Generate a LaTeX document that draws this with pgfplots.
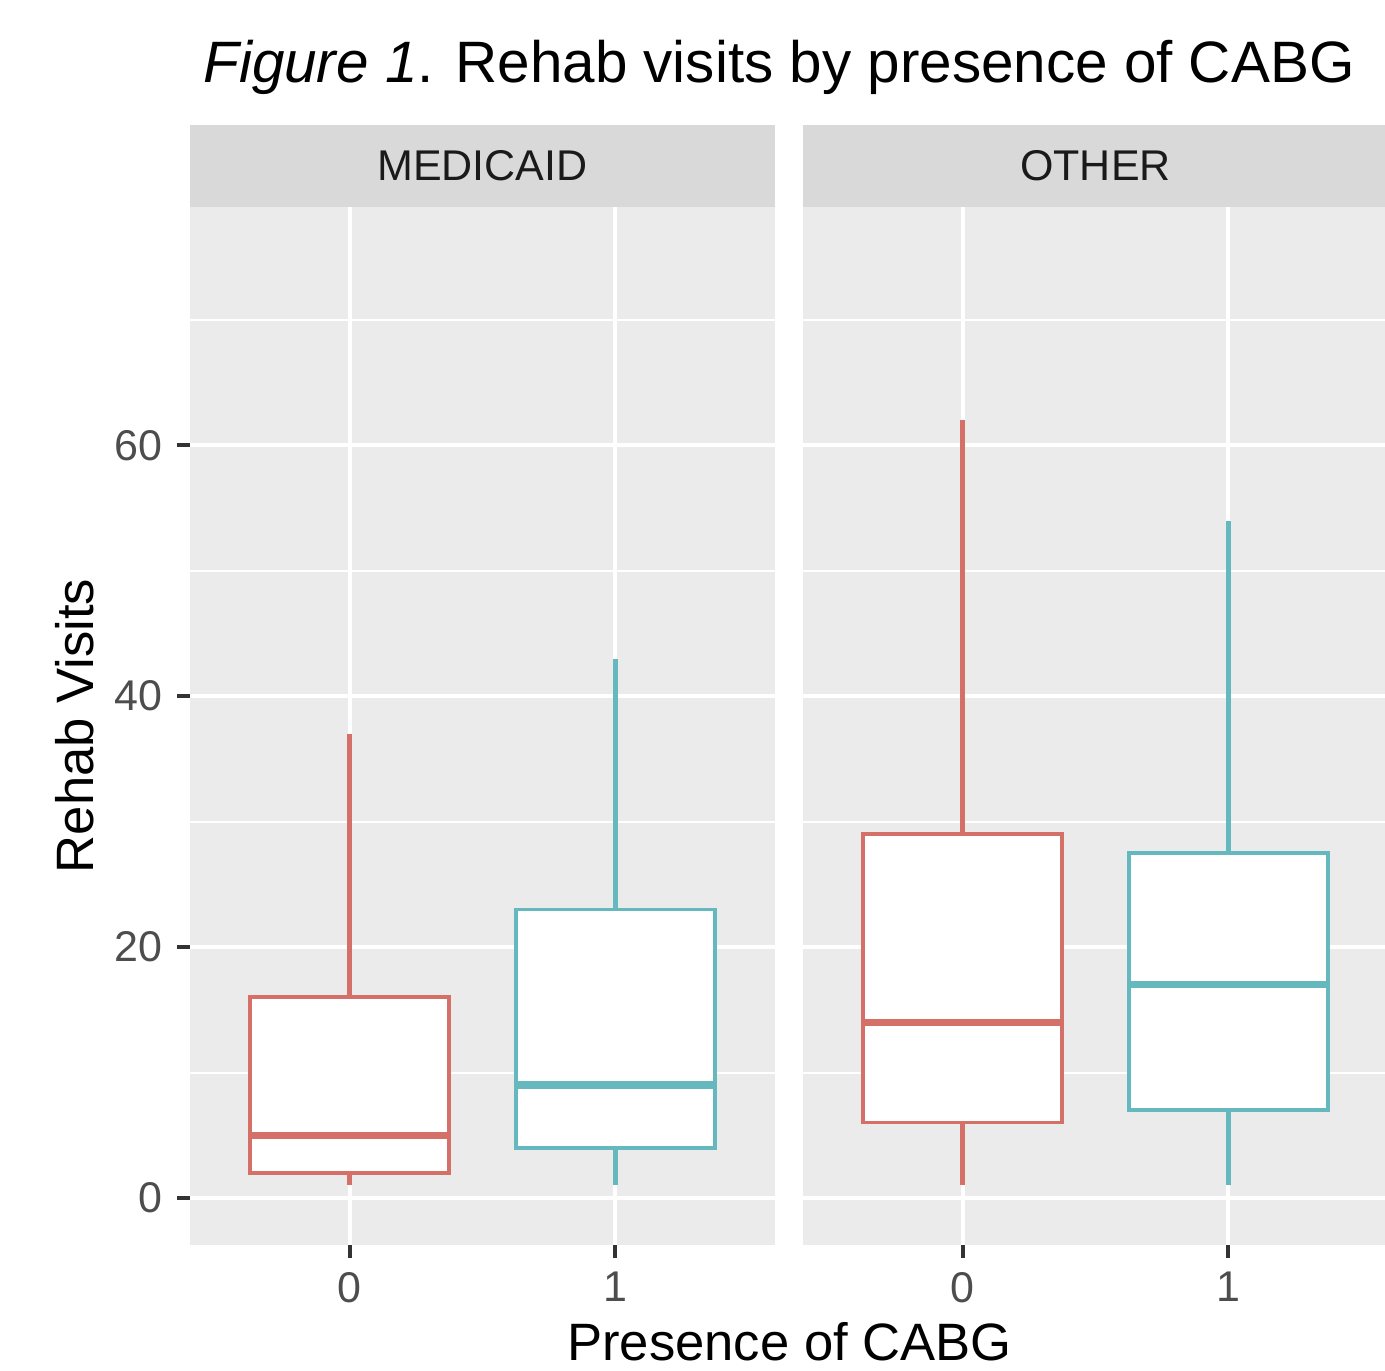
\documentclass[border=0pt]{standalone}
\usepackage{fontspec}
\setmainfont{Liberation Sans}
\usepackage{pgfplots}
\pgfplotsset{compat=1.18}
\usepgfplotslibrary{statistics}
\definecolor{cred}{RGB}{212,112,104}
\definecolor{cteal}{RGB}{100,184,190}
\definecolor{pbg}{HTML}{EBEBEB}
\definecolor{stripc}{HTML}{D9D9D9}
\definecolor{g30}{HTML}{4D4D4D}
\definecolor{g20}{HTML}{333333}
\definecolor{g10}{HTML}{1A1A1A}

\pgfplotsset{
 facet/.style={
  scale only axis, width=292.5pt, height=519pt,
  xmin=-0.6, xmax=1.6, ymin=-3.75, ymax=79,
  xtick={0,1}, ytick={0,20,40,60}, minor ytick={10,30,50,70},
  grid=both,
  major grid style={white, line width=2pt},
  minor grid style={white, line width=1pt},
  axis background/.style={fill=pbg},
  axis line style={draw=none},
  tick align=outside, xtick pos=left, ytick pos=left,
  major tick length=6.5pt, minor tick length=0pt,
  tick style={g20, line width=2pt},
  ticklabel style={font=\fontsize{21.5}{24}\selectfont, text=g30, inner sep=0pt},
  /pgf/number format/assume math mode=true,
  xticklabel style={yshift=-7pt, anchor=north},
  yticklabel style={xshift=-7pt, anchor=east},
  every axis title shift=0pt,
  title style={at={(0.5,1)}, anchor=south, fill=stripc, minimum width=292.5pt,
    minimum height=41pt, inner sep=0pt, yshift=0pt, font=\fontsize{21.5}{24}\selectfont, text=g10},
  boxplot/draw direction=y,
  boxplot/box extend=0.75,
  boxplot/whisker extend=0,
 },
 bx/.style={draw=#1, fill=white, line width=1.8pt,
  boxplot/every box/.style={draw=#1, fill=white, line width=1.8pt},
  boxplot/every whisker/.style={draw=#1, line width=2.3pt},
  boxplot/every median/.style={draw=#1, line width=3.6pt}},
}

\begin{document}
\begin{tikzpicture}
\path[use as bounding box] (0,0) rectangle (692.5pt,685pt);

\begin{axis}[facet, at={(95pt,62.5pt)}, anchor=south west, title={MEDICAID}]
\addplot[bx=cred, boxplot prepared={draw position=0, lower whisker=1, lower quartile=2,
  median=5, upper quartile=16, upper whisker=37}] coordinates {};
\addplot[bx=cteal, boxplot prepared={draw position=1, lower whisker=1, lower quartile=4,
  median=9, upper quartile=23, upper whisker=43}] coordinates {};
\end{axis}

\begin{axis}[facet, at={(401.5pt,62.5pt)}, anchor=south west, title={OTHER},
  yticklabels={}, y tick style={draw=none}]
\addplot[bx=cred, boxplot prepared={draw position=0, lower whisker=1, lower quartile=6,
  median=14, upper quartile=29, upper whisker=62}] coordinates {};
\addplot[bx=cteal, boxplot prepared={draw position=1, lower whisker=1, lower quartile=7,
  median=17, upper quartile=27.5, upper whisker=54}] coordinates {};
\end{axis}

\node[anchor=base west, inner sep=0pt, font=\fontsize{29.2}{34}\selectfont, text=black]
  at (101.5pt,643.6pt) {\textit{Figure 1}. Rehab visits by presence of CABG};
\node[anchor=base, inner sep=0pt, font=\fontsize{26.3}{30}\selectfont, text=black]
  at (394.75pt,4.75pt) {Presence of CABG};
\node[anchor=base, rotate=90, inner sep=0pt, font=\fontsize{26.3}{30}\selectfont, text=black]
  at (46.5pt,322pt) {Rehab Visits};
\end{tikzpicture}
\end{document}
